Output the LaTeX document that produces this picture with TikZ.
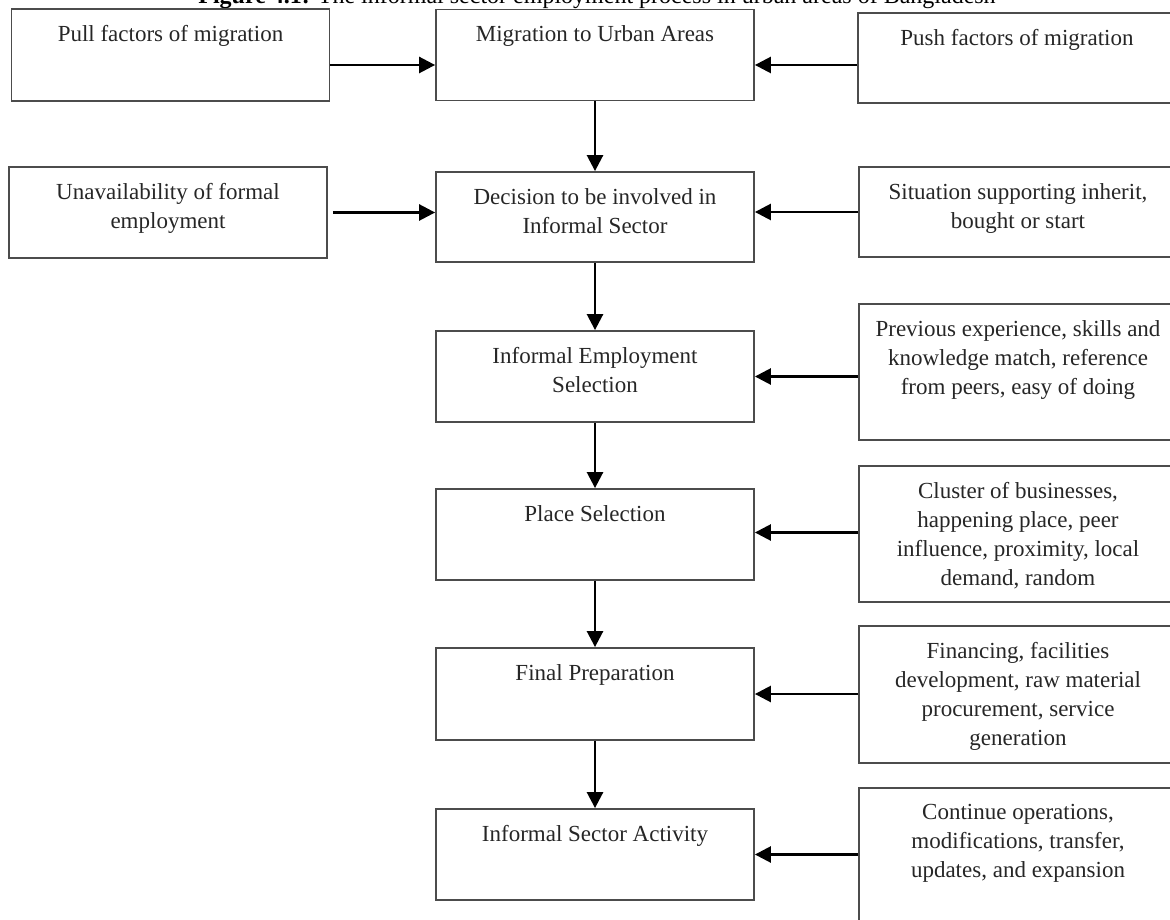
\documentclass[tikz,border=0pt]{standalone}
\usepackage{fontspec}
\setmainfont{Liberation Serif}
\usetikzlibrary{positioning, arrows.meta}

\begin{document}
\begin{tikzpicture}[x=0.5pt, y=-0.5pt,
    box/.style = {draw=black!70, line width=0.9pt, minimum width=159pt, inner sep=0pt},
    txt/.style = {align=center, inner sep=0pt, text=black!85, font=\fontsize{11.5}{14.5}\selectfont},
    arr/.style = {-{Triangle[length=8pt, width=8pt]}, line width=1.3pt}]
    \useasboundingbox (0,0) rectangle (1170,919);
    % caption, cut at the top
    \node[anchor=base, font=\fontsize{12}{14}\selectfont] (cap) at (597,4)
        {\textbf{Figure 4.1:} The informal sector employment process in urban areas of Bangladesh};
    % left column
    \node[box, minimum height=46pt] (pull) at (170.5,55) {};
    \node[txt, below=8.5pt of pull.north] (pullt) {Pull factors of migration};
    \node[box, minimum height=45.5pt] (unav) at (168,212.5) {};
    \node[txt, below=8.5pt of unav.north] (unavt) {Unavailability of formal\\employment};
    % middle column
    \node[box, minimum height=45.5pt] (migr) at (595,55) {};
    \node[txt, below=8.5pt of migr.north] (migrt) {Migration to Urban Areas};
    \node[box, minimum height=45pt] (dec) at (595,217) {};
    \node[txt, below=8.5pt of dec.north] (dect) {Decision to be involved in\\Informal Sector};
    \node[box, minimum height=45.5pt] (ies) at (595,376.5) {};
    \node[txt, below=8.5pt of ies.north] (iest) {Informal Employment\\Selection};
    \node[box, minimum height=45.5pt] (place) at (595,534.5) {};
    \node[txt, below=8.5pt of place.north] (placet) {Place Selection};
    \node[box, minimum height=46pt] (final) at (595,694) {};
    \node[txt, below=8.5pt of final.north] (finalt) {Final Preparation};
    \node[box, minimum height=45.5pt] (act) at (595,854.5) {};
    \node[txt, below=8.5pt of act.north] (actt) {Informal Sector Activity};
    % right column
    \node[box, minimum height=45pt] (push) at (1017,58) {};
    \node[txt, below=8.5pt of push.north] (pusht) {Push factors of migration};
    \node[box, minimum height=45pt] (sit) at (1018,212) {};
    \node[txt, below=8.5pt of sit.north] (sitt) {Situation supporting inherit,\\bought or start};
    \node[box, minimum height=68pt] (prev) at (1018,372) {};
    \node[txt, below=8.5pt of prev.north] (prevt) {Previous experience, skills and\\knowledge match, reference\\from peers, easy of doing};
    \node[box, minimum height=68pt] (clus) at (1018,534) {};
    \node[txt, below=8.5pt of clus.north] (clust) {Cluster of businesses,\\happening place, peer\\influence, proximity, local\\demand, random};
    \node[box, minimum height=68.5pt] (fin) at (1018,694.5) {};
    \node[txt, below=8.5pt of fin.north] (fint) {Financing, facilities\\development, raw material\\procurement, service\\generation};
    \node[box, minimum height=68.5pt] (cont) at (1018,856.5) {};
    \node[txt, below=8.5pt of cont.north] (contt) {Continue operations,\\modifications, transfer,\\updates, and expansion};
    % flow down the middle
    \draw[arr] (migr) -- (dec);
    \draw[arr] (dec) -- (ies);
    \draw[arr] (ies) -- (place);
    \draw[arr] (place) -- (final);
    \draw[arr] (final) -- (act);
    % factors
    \draw[arr] ([yshift=-5pt]pull.east) -- ([yshift=-5pt]migr.west);
    \draw[arr] ([yshift=-5pt]migr.east -| push.west) -- ([yshift=-5pt]migr.east);
    \draw[arr, shorten <=2.5pt] (unav.east) -- (unav.east -| dec.west);
    \draw[arr] (sit.west) -- (sit.west -| dec.east);
    \draw[arr] (ies.east -| prev.west) -- (ies.east);
    \draw[arr] ([yshift=1pt]place.east -| clus.west) -- ([yshift=1pt]place.east);
    \draw[arr] (final.east -| fin.west) -- (final.east);
    \draw[arr] (act.east -| cont.west) -- (act.east);
\end{tikzpicture}
\end{document}
